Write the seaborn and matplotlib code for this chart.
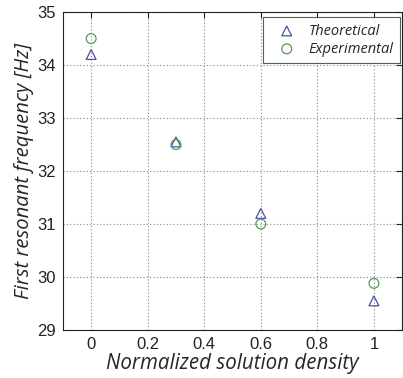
import matplotlib
matplotlib.use("Agg")
import matplotlib.pyplot as plt
import seaborn as sns
import pandas as pd

density = [0, 0.3, 0.6, 1.0]
theoretical = [34.2, 32.55, 31.2, 29.55]
experimental = [34.5, 32.5, 31.0, 29.88]
xticks = [0, 0.2, 0.4, 0.6, 0.8, 1]
yticks = [29, 30, 31, 32, 33, 34, 35]

df = pd.DataFrame({
    "x": density * 2,
    "y": theoretical + experimental,
    "series": ["Theoretical"] * 4 + ["Experimental"] * 4,
})

sns.set_style("white")
plt.rcParams['font.family'] = ['Liberation Sans', 'DejaVu Sans']

fig = plt.figure(figsize=(4.03, 3.78), dpi=100)
ax = fig.add_axes([0.156, 0.127, 0.842, 0.841])

colors = {"Theoretical": "#4e4ea8", "Experimental": "#559c55"}
markers = {"Theoretical": "^", "Experimental": "o"}
for name in ["Theoretical", "Experimental"]:
    sub = df[df.series == name]
    sns.scatterplot(data=sub, x="x", y="y", ax=ax, marker=markers[name], s=50,
                    facecolors="none", edgecolor=colors[name], linewidth=0.9,
                    label=name)

ax.set_xlim(-0.1, 1.1)
ax.set_ylim(29, 35)
ax.set_xticks(xticks)
ax.set_xticklabels(["0", "0.2", "0.4", "0.6", "0.8", "1"])
ax.set_yticks(yticks)
ax.tick_params(labelsize=12, direction="in", length=4, top=True, right=True,
               colors="#222222", pad=5)
ax.grid(True, linestyle=(0, (1, 2)), color="#888888", linewidth=0.8)
for sp in ax.spines.values():
    sp.set_color("#222222")
    sp.set_linewidth(0.8)

ax.set_xlabel("Normalized solution density", fontsize=14.8, style="italic",
              family=["Open Sans", "DejaVu Sans"], labelpad=1)
ax.set_ylabel("First resonant frequency [Hz]", fontsize=14.6, style="italic",
              family=["Open Sans", "DejaVu Sans"], labelpad=2)

leg = ax.legend(loc="upper right", bbox_to_anchor=(0.994, 0.984), borderaxespad=0,
                frameon=True, fancybox=False,
                prop={"style": "italic", "family": ["Open Sans"], "size": 10.5},
                borderpad=0.45, labelspacing=0.2, handletextpad=0.3,
                handlelength=2.4)
leg.get_frame().set_edgecolor("#333333")
leg.get_frame().set_linewidth(0.8)

fig.savefig("out.png", dpi=100)
